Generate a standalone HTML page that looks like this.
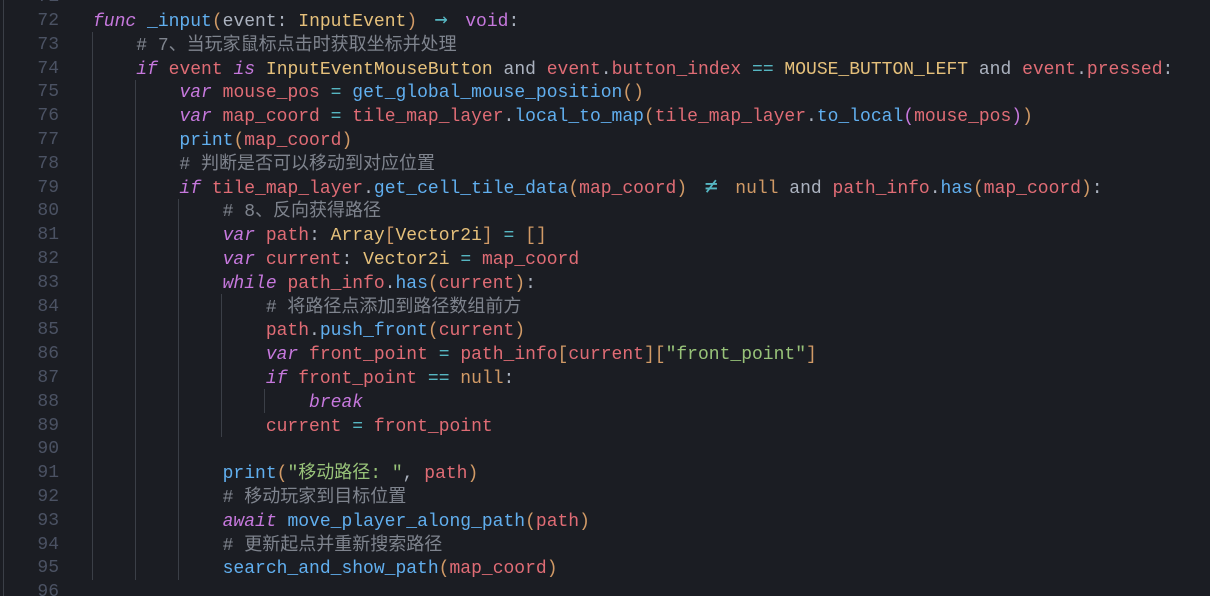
<!DOCTYPE html>
<html><head><meta charset="utf-8"><style>
html,body{margin:0;padding:0;background:#1b1d23;width:1210px;height:596px;overflow:hidden;position:relative}
.l{position:absolute;left:93px;height:24px;line-height:24px;white-space:pre;font:18px "Liberation Mono","Noto Sans CJK SC",monospace;color:#abb2bf;margin-top:-2px}
.l::before{content:"\200B";font-family:"Noto Sans CJK SC",sans-serif}
.n{position:absolute;left:0;width:59px;text-align:right;height:24px;line-height:24px;font:18px "Liberation Mono",monospace;color:#4b5263;margin-top:3px}
.g{position:absolute;width:1px;background:#3b3f47}
.k{color:#c678dd;font-style:italic}.v{color:#e06c75}.f{color:#61afef}.t{color:#e5c07b}.o{color:#56b6c2}.nl{color:#d19a66}
.c{color:#7f848e}.s{color:#98c379}.b{color:#d19a66}.b2{color:#c678dd}
.lg{display:inline-block;width:2ch;text-align:center}
.ar{font-size:22px;font-family:"DejaVu Sans Mono",monospace}
</style></head><body>
<div class="g" style="left:3px;top:0;height:596px"></div>
<div class="g" style="left:92px;top:32px;height:548px"></div>
<div class="g" style="left:135px;top:80px;height:500px"></div>
<div class="g" style="left:178px;top:199px;height:381px"></div>
<div class="g" style="left:221px;top:294px;height:143px"></div>
<div class="g" style="left:264px;top:389px;height:24px"></div>

<div class="n" style="top:-16px">71</div>
<div class="n" style="top:8px">72</div>
<div class="n" style="top:32px">73</div>
<div class="n" style="top:56px">74</div>
<div class="n" style="top:79px">75</div>
<div class="n" style="top:103px">76</div>
<div class="n" style="top:127px">77</div>
<div class="n" style="top:151px">78</div>
<div class="n" style="top:175px">79</div>
<div class="n" style="top:198px">80</div>
<div class="n" style="top:222px">81</div>
<div class="n" style="top:246px">82</div>
<div class="n" style="top:270px">83</div>
<div class="n" style="top:294px">84</div>
<div class="n" style="top:317px">85</div>
<div class="n" style="top:341px">86</div>
<div class="n" style="top:365px">87</div>
<div class="n" style="top:389px">88</div>
<div class="n" style="top:413px">89</div>
<div class="n" style="top:436px">90</div>
<div class="n" style="top:460px">91</div>
<div class="n" style="top:484px">92</div>
<div class="n" style="top:508px">93</div>
<div class="n" style="top:532px">94</div>
<div class="n" style="top:555px">95</div>
<div class="n" style="top:579px">96</div>

<div class="l" style="top:8px"><span class="k">func</span> <span class="f">_input</span><span class="b">(</span>event: <span class="t">InputEvent</span><span class="b">)</span> <span class="lg o ar">→</span> <span class="k" style="font-style:normal">void</span>:</div>
<div class="l" style="top:32px">    <span class="c"># 7、当玩家鼠标点击时获取坐标并处理</span></div>
<div class="l" style="top:56px">    <span class="k">if</span> <span class="v">event</span> <span class="k">is</span> <span class="t">InputEventMouseButton</span> and <span class="v">event</span>.<span class="v">button_index</span> <span class="lg o">==</span> <span class="t">MOUSE_BUTTON_LEFT</span> and <span class="v">event</span>.<span class="v">pressed</span>:</div>
<div class="l" style="top:79px">        <span class="k">var</span> <span class="v">mouse_pos</span> <span class="o">=</span> <span class="f">get_global_mouse_position</span><span class="b">()</span></div>
<div class="l" style="top:103px">        <span class="k">var</span> <span class="v">map_coord</span> <span class="o">=</span> <span class="v">tile_map_layer</span>.<span class="f">local_to_map</span><span class="b">(</span><span class="v">tile_map_layer</span>.<span class="f">to_local</span><span class="b2">(</span><span class="v">mouse_pos</span><span class="b2">)</span><span class="b">)</span></div>
<div class="l" style="top:127px">        <span class="f">print</span><span class="b">(</span><span class="v">map_coord</span><span class="b">)</span></div>
<div class="l" style="top:151px">        <span class="c"># 判断是否可以移动到对应位置</span></div>
<div class="l" style="top:175px">        <span class="k">if</span> <span class="v">tile_map_layer</span>.<span class="f">get_cell_tile_data</span><span class="b">(</span><span class="v">map_coord</span><span class="b">)</span> <span class="lg o ar">≠</span> <span class="nl">null</span> and <span class="v">path_info</span>.<span class="f">has</span><span class="b">(</span><span class="v">map_coord</span><span class="b">)</span>:</div>
<div class="l" style="top:198px">            <span class="c"># 8、反向获得路径</span></div>
<div class="l" style="top:222px">            <span class="k">var</span> <span class="v">path</span>: <span class="t">Array</span><span class="b">[</span><span class="t">Vector2i</span><span class="b">]</span> <span class="o">=</span> <span class="b">[]</span></div>
<div class="l" style="top:246px">            <span class="k">var</span> <span class="v">current</span>: <span class="t">Vector2i</span> <span class="o">=</span> <span class="v">map_coord</span></div>
<div class="l" style="top:270px">            <span class="k">while</span> <span class="v">path_info</span>.<span class="f">has</span><span class="b">(</span><span class="v">current</span><span class="b">)</span>:</div>
<div class="l" style="top:294px">                <span class="c"># 将路径点添加到路径数组前方</span></div>
<div class="l" style="top:317px">                <span class="v">path</span>.<span class="f">push_front</span><span class="b">(</span><span class="v">current</span><span class="b">)</span></div>
<div class="l" style="top:341px">                <span class="k">var</span> <span class="v">front_point</span> <span class="o">=</span> <span class="v">path_info</span><span class="b">[</span><span class="v">current</span><span class="b">][</span><span class="s">"front_point"</span><span class="b">]</span></div>
<div class="l" style="top:365px">                <span class="k">if</span> <span class="v">front_point</span> <span class="lg o">==</span> <span class="nl">null</span>:</div>
<div class="l" style="top:389px">                    <span class="k">break</span></div>
<div class="l" style="top:413px">                <span class="v">current</span> <span class="o">=</span> <span class="v">front_point</span></div>
<div class="l" style="top:460px">            <span class="f">print</span><span class="b">(</span><span class="s">"移动路径: "</span>, <span class="v">path</span><span class="b">)</span></div>
<div class="l" style="top:484px">            <span class="c"># 移动玩家到目标位置</span></div>
<div class="l" style="top:508px">            <span class="k">await</span> <span class="f">move_player_along_path</span><span class="b">(</span><span class="v">path</span><span class="b">)</span></div>
<div class="l" style="top:532px">            <span class="c"># 更新起点并重新搜索路径</span></div>
<div class="l" style="top:555px">            <span class="f">search_and_show_path</span><span class="b">(</span><span class="v">map_coord</span><span class="b">)</span></div>
</body></html>
